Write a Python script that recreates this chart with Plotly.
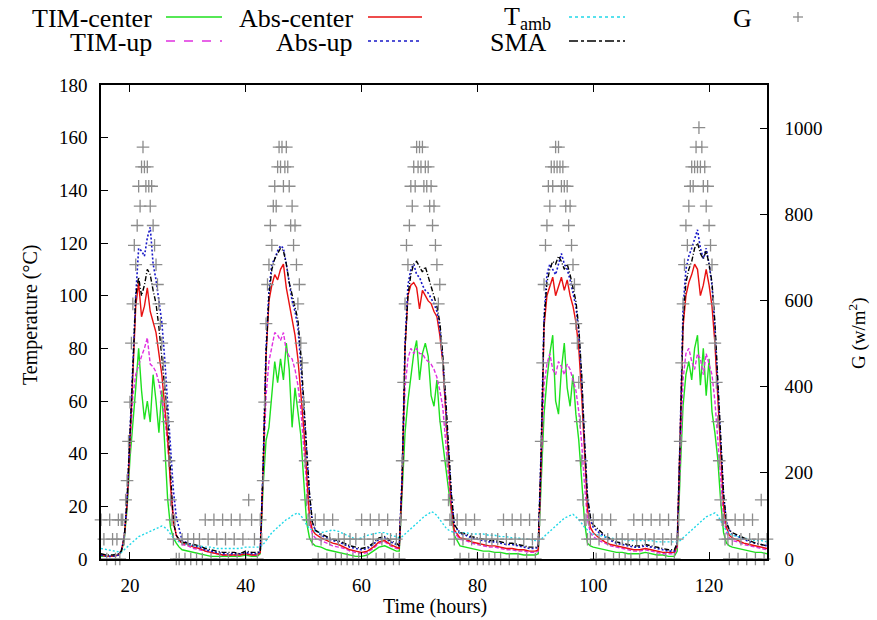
import numpy as np
import plotly.graph_objects as go

# ---------------- data ----------------
hours = [15, 16, 17, 18,
         18.5, 19, 19.5, 20, 20.5, 21, 21.5, 22, 22.5, 23, 23.5, 24, 24.5, 25, 25.5, 26, 26.5, 27, 27.5, 28, 28.5, 29,
         30, 31, 32, 33, 34, 35, 36, 37, 38, 39, 40, 41, 42,
         42.5, 43, 43.5, 44, 44.5, 45, 45.5, 46, 46.5, 47, 47.5, 48, 48.5, 49, 49.5, 50, 50.5, 51, 51.5, 52,
         53, 54, 55, 56, 57, 58, 59, 60, 61, 62, 63, 64, 65, 66,
         66.5, 67, 67.5, 68, 68.5, 69, 69.5, 70, 70.5, 71, 71.5, 72, 72.5, 73, 73.5, 74, 74.5, 75, 75.5, 76,
         77, 78, 79, 80, 81, 82, 83, 84, 85, 86, 87, 88, 89, 90,
         90.5, 91, 91.5, 92, 92.5, 93, 93.5, 94, 94.5, 95, 95.5, 96, 96.5, 97, 97.5, 98, 98.5, 99, 99.5, 100,
         101, 102, 103, 104, 105, 106, 107, 108, 109, 110, 111, 112, 113, 114,
         114.5, 115, 115.5, 116, 116.5, 117, 117.5, 118, 118.5, 119, 119.5, 120, 120.5, 121, 121.5, 122, 122.5, 123, 123.5, 124,
         125, 126, 127, 128, 129, 130]

tim_center = [1, 1, 1, 1.5,
              2.5, 7, 19, 38, 50, 65, 80, 64, 53, 60, 52, 70, 60, 48, 64, 41, 23, 12, 8, 6, 4.5, 3.5,
              3, 2.5, 2, 1.5, 1, 1, 1, 1, 1, 1, 1.5, 1, 1,
              2, 28, 45, 50, 63, 75, 67, 76, 68, 82, 72, 50, 65, 56, 47, 30, 14, 8, 6, 5,
              4.5, 3.5, 3, 2.5, 2, 1.5, 1, 1, 1.5, 3, 4.5, 5, 4, 3,
              3, 25, 48, 60, 70, 78, 83, 68, 78, 82, 77, 62, 58, 68, 53, 44, 37, 28, 17, 9,
              5, 4.5, 4, 3.5, 3, 3, 2.5, 2.5, 2, 2, 2, 1.5, 1.5, 1.5,
              2, 28, 55, 68, 78, 85, 60, 55, 72, 82, 65, 58, 70, 55, 45, 30, 14, 6, 5, 4.5,
              4, 3.5, 3, 2.5, 2.5, 2, 2, 2, 2.5, 2, 1.5, 1.5, 1, 1,
              3, 32, 58, 70, 75, 68, 80, 85, 66, 80, 62, 76, 56, 48, 38, 22, 10, 6, 5, 4.5,
              4, 3.5, 3, 2.5, 2.5, 2]

tim_up = [1.5, 1, 1, 1.5,
          3, 8, 21, 43, 62, 70, 74, 77, 80, 84, 74, 73, 71, 67, 61, 54, 44, 30, 16, 9, 7, 5.5,
          5, 4, 3.5, 3, 2.5, 2, 1.5, 1.5, 1.5, 1.5, 2, 1.5, 1.5,
          2.5, 32, 62, 75, 80, 86, 85, 83, 86, 79, 77, 76, 72, 66, 57, 42, 27, 14, 9.5, 8,
          7, 6, 5, 4.5, 4, 3, 2.5, 2, 2.5, 4, 6, 6.5, 5, 4,
          4, 28, 65, 76, 80, 78, 80, 78, 78, 76, 75, 74, 72, 69, 64, 58, 45, 32, 18, 10,
          7.5, 7, 6, 5.5, 5, 4.5, 4.5, 4, 3.5, 3.5, 3, 3, 2.5, 2.5,
          3, 33, 66, 74, 78, 72, 70, 75, 73, 70, 74, 72, 68, 64, 56, 44, 28, 15, 10, 8.5,
          7, 6, 5, 4.5, 4, 3.5, 3, 3, 3.5, 3, 2.5, 2, 2, 2,
          4, 36, 68, 78, 80, 75, 72, 78, 76, 70, 78, 74, 70, 60, 45, 30, 16, 10, 8, 7,
          6.5, 5.5, 5, 4.5, 4, 3.5]

abs_center = [1.5, 1, 1, 1.5,
              3, 8, 21, 44, 70, 96, 105, 92, 96, 103, 94, 90, 86, 78, 70, 58, 46, 28, 14, 9, 7, 6,
              5.5, 4.5, 4, 3, 2.5, 2, 1.5, 1.5, 1.5, 1.5, 2, 1.5, 1.5,
              2.5, 34, 77, 98, 104, 108, 106, 110, 112, 103, 97, 90, 85, 76, 64, 50, 33, 16, 11, 9.5,
              8, 7, 6, 5.5, 4.5, 3.5, 3, 2.5, 3, 4.5, 6.5, 7, 5.5, 4.5,
              4, 30, 80, 100, 104, 105, 103, 95, 102, 100, 98, 97, 94, 92, 85, 75, 58, 40, 20, 11,
              8, 7.5, 6.5, 6, 5.5, 5, 5, 4.5, 4, 4, 3.5, 3.5, 3, 3,
              3.5, 38, 88, 100, 104, 107, 100, 104, 107, 102, 106, 100, 96, 90, 80, 62, 38, 19, 12, 10,
              8, 6.5, 5.5, 5, 4.5, 4, 3.5, 3.5, 4, 3.5, 3, 2.5, 2.5, 2.5,
              5, 43, 88, 100, 105, 108, 112, 110, 100, 104, 110, 104, 96, 82, 60, 40, 20, 12, 9, 8,
              7, 6, 5.5, 5, 4.5, 4]

abs_up = [1.5, 1, 1, 1.5,
          3, 8, 22, 47, 78, 100, 118, 117, 115, 122, 126, 112, 106, 98, 90, 76, 60, 40, 26, 16, 11, 7,
          6, 5, 4.5, 3.5, 3, 2.5, 2, 2, 2, 2, 2.5, 2, 2,
          3, 36, 80, 102, 112, 114, 117, 119, 118, 112, 104, 98, 94, 88, 74, 57, 40, 24, 14, 11,
          9, 8, 7, 6.5, 5.5, 4.5, 4, 3.5, 4, 5.5, 7.5, 8, 6.5, 5.5,
          5, 32, 82, 104, 110, 112, 108, 107, 104, 102, 101, 99, 97, 94, 88, 76, 60, 42, 24, 13,
          9.5, 9, 8, 7.5, 7, 6.5, 6.5, 6, 5.5, 5.5, 5, 4.5, 4, 4,
          4.5, 42, 92, 108, 112, 110, 108, 112, 116, 112, 110, 106, 101, 96, 86, 68, 44, 23, 15, 12,
          10, 8.5, 7, 6, 5.5, 5, 4.5, 4.5, 5, 4.5, 4, 3.5, 3, 3,
          6, 47, 95, 110, 115, 118, 122, 125, 118, 114, 118, 112, 104, 88, 66, 44, 24, 14, 11, 9.5,
          8.5, 7.5, 6.5, 6, 5.5, 5]

t_amb = [4, 3.5, 3, 2.5,
         2.5, 3.5, 4.5, 5.5, 6.5, 7.5, 8.5, 9, 9.5, 10, 10.5, 11, 11.5, 12, 12.5, 12, 11, 9.5, 8, 7, 6.5, 6,
         5.5, 5, 5, 4.5, 4.5, 4, 4, 4, 4, 4, 4.5, 4.5, 4.5,
         4.5, 5.5, 7, 8.5, 10, 11, 12, 13, 14, 15, 15.5, 16.5, 17, 17.5, 16.5, 15, 13, 11.5, 11, 10.5,
         10, 10.5, 11, 10.5, 9.5, 8.5, 7.5, 8, 9, 9.5, 10, 10, 9, 8.5,
         8, 8.5, 9.5, 10.5, 11.5, 12.5, 13.5, 14.5, 15.5, 16.5, 17, 18, 17.5, 16.5, 15, 13.5, 12, 11, 10.5, 10,
         10, 10, 9.5, 9.5, 9.5, 9, 9, 8.5, 8.5, 8, 8, 7.5, 7.5, 7,
         7, 7.5, 8.5, 9.5, 10.5, 11.5, 12.5, 13.5, 14.5, 15.5, 16, 16.5, 17, 16, 15, 13.5, 12, 11, 10, 9.5,
         9, 8.5, 8, 7.5, 7.5, 7, 7, 7, 7, 7, 6.5, 6.5, 6.5, 6.5,
         6.5, 7, 8, 9, 10, 11, 12, 13, 14, 15, 16, 16.5, 17, 17.5, 16.5, 14.5, 12, 10.5, 9.5, 9,
         8.5, 8, 7.5, 7, 7, 6.5]

sma = [2.0, 1.5, 1.5, 2.0,
       3, 8, 22, 45, 72, 100, 107, 100, 104, 110, 108, 102, 97, 88, 77, 64, 54, 33, 14, 9, 7.5, 6.5,
       6, 5.5, 5, 4, 3.5, 3, 2.5, 2.5, 2.5, 2, 3, 2.5, 2.5,
       3, 35, 78, 100, 110, 114, 116, 118, 117, 112, 105, 100, 96, 91, 78, 60, 42, 25, 14, 11,
       9.5, 8.5, 7.5, 7, 6, 5, 4.5, 4, 4.5, 6, 8, 8.5, 7, 6,
       5, 30, 80, 100, 108, 112, 113, 111, 109, 111, 107, 104, 99, 96, 90, 78, 62, 44, 25, 13,
       10, 9.5, 8.5, 8, 7.5, 7, 7, 6.5, 6, 6, 5.5, 5, 4.5, 4.5,
       4.5, 40, 90, 105, 110, 113, 112, 115, 113, 110, 112, 108, 103, 98, 88, 70, 45, 24, 16, 13,
       11, 9, 7.5, 6.5, 6, 5.5, 5, 5, 5.5, 5, 4.5, 4, 3.5, 3.5,
       6, 45, 90, 105, 110, 113, 118, 120, 116, 114, 117, 112, 105, 90, 68, 45, 25, 14, 11, 10,
       9, 8, 7, 6, 5.5, 5]

# Irradiance G (W/m2): segments of (start hour, step in hours, readings)
g_segments = [
    (15.0, 0.5, [91, 46, 0, 91, 46, 0]),
    (17.75, 0.25, [46, 91, 0, 91, 91, 46, 137, 182, 273, 364, 501, 592, 728, 683, 774, 865, 819, 910, 956, 910,
                   865, 910, 865, 819, 865, 774, 728, 683, 637, 592, 546, 501, 455, 410, 364, 319, 228, 137, 91, 46,
                   91, 0]),
    (28.5, 0.5, [0, 46, 0, 46, 0, 46, 0, 46, 0, 91, 46, 0, 91, 46, 0, 91, 46, 0, 91, 46, 0, 91, 46, 0, 137, 91,
                 46, 0, 91]),
    (42.75, 0.25, [46, 182, 364, 546, 637, 683, 774, 728, 819, 865, 819, 910, 956, 910, 956, 865, 910, 956, 910,
                   865, 774, 819, 728, 774, 683, 592, 637, 501, 455, 364, 228, 137, 91, 91]),
    (51.5, 0.5, [46, 91, 0, 46, 91, 0, 46, 91, 0, 46, 0, 46, 0, 46, 0, 46, 0, 91, 46, 0, 91, 46, 0, 91, 46, 0, 91,
                 46, 0, 46, 0]),
    (66.75, 0.25, [91, 228, 410, 592, 728, 683, 774, 865, 819, 910, 865, 956, 910, 956, 910, 956, 865, 910, 865,
                   910, 819, 865, 774, 819, 728, 683, 592, 637, 501, 455, 410, 319, 228, 137, 91, 91]),
    (76.0, 0.5, [46, 91, 0, 46, 91, 0, 46, 91, 0, 46, 0, 46, 0, 46, 0, 46, 0, 91, 46, 0, 91, 46, 0, 91, 46, 0, 91,
                 46, 0, 46]),
    (90.75, 0.25, [91, 273, 455, 637, 728, 774, 865, 819, 910, 865, 910, 956, 910, 956, 910, 865, 910, 865, 819,
                   865, 774, 819, 728, 683, 637, 546, 501, 410, 319, 228, 137, 91, 91, 46, 91, 46]),
    (100.0, 0.5, [91, 0, 46, 91, 0, 46, 91, 0, 46, 0, 46, 0, 46, 0, 91, 46, 0, 91, 46, 0, 91, 46, 0, 91, 46, 0,
                  91, 46, 0, 46]),
    (114.75, 0.25, [91, 273, 455, 592, 683, 774, 728, 819, 865, 910, 865, 910, 956, 910, 1001, 910, 956, 865, 910,
                    819, 865, 774, 728, 683, 592, 501, 410, 319, 228, 137, 91, 91, 46, 91, 46, 0]),
    (124.0, 0.5, [46, 91, 0, 46, 91, 0, 46, 91, 0, 46, 137, 0, 46]),
]

x_ticks = [20, 40, 60, 80, 100, 120]
y_ticks = [0, 20, 40, 60, 80, 100, 120, 140, 160, 180]
y2_ticks = [0, 200, 400, 600, 800, 1000]

g_hours, g_vals = [], []
for start, step, vals in g_segments:
    g_hours.extend(start + step * np.arange(len(vals)))
    g_vals.extend(vals)

# ---------------- styling ----------------
FONT = "Liberation Serif"
C_GREEN = "#1ee01e"
C_MAG = "#e030e0"
C_RED = "#e81010"
C_BLUE = "#1818c8"
C_CYAN = "#20d8e8"
C_BLACK = "#000000"
C_GRAY = "#8c8c8c"

series = [
    ("TIM-center", tim_center, C_GREEN, "solid", 1.4),
    ("TIM-up", tim_up, C_MAG, "4px,2px", 1.4),
    ("Abs-center", abs_center, C_RED, "solid", 1.4),
    ("Abs-up", abs_up, C_BLUE, "2px,2px", 1.6),
    ("T<sub>amb</sub>", t_amb, C_CYAN, "2px,2px", 1.4),
    ("SMA", sma, C_BLACK, "5px,2px,1px,2px", 1.4),
]

fig = go.Figure()
for name, vals, col, dash, w in series:
    fig.add_trace(go.Scatter(x=hours, y=vals, mode="lines", name=name,
                             line=dict(color=col, dash=dash, width=w), showlegend=False))

fig.add_trace(go.Scatter(x=g_hours, y=g_vals, mode="markers", name="G", yaxis="y2",
                         marker=dict(symbol="cross-thin", size=9, color=C_GRAY,
                                     line=dict(color=C_GRAY, width=1.3)),
                         cliponaxis=False, showlegend=False))

L, R, T, B = 101, 767, 85, 559


def px(xp):
    return (xp - L) / (R - L)


def py(yp):
    return (B - yp) / (B - T)


annotations = []
shapes = []
legend_items = [
    # (text, right edge px, y px, color, dash, sample x0, x1)
    ("TIM-center", 154, 18, C_GREEN, "solid", 166, 222),
    ("TIM-up", 154, 42, C_MAG, "dash", 166, 222),
    ("Abs-center", 355, 18, C_RED, "solid", 368, 422),
    ("Abs-up", 355, 42, C_BLUE, "dot", 368, 422),
    ("T<sub>amb</sub>", 553, 18, C_CYAN, "dot", 569, 625),
    ("SMA", 549, 42, C_BLACK, "dashdot", 569, 625),
]
for text, xr, yc, col, dash, x0, x1 in legend_items:
    annotations.append(dict(text=text, x=px(xr), y=py(yc), xref="paper", yref="paper",
                            xanchor="right", yanchor="middle", showarrow=False,
                            font=dict(family=FONT, size=26, color="black")))
    shapes.append(dict(type="line", xref="paper", yref="paper", x0=px(x0), x1=px(x1),
                       y0=py(yc - 1), y1=py(yc - 1), line=dict(color=col, dash=dash, width=1.5)))

annotations.append(dict(text="G", x=px(754), y=py(18), xref="paper", yref="paper",
                        xanchor="right", yanchor="middle", showarrow=False,
                        font=dict(family=FONT, size=26, color="black")))
# legend plus sign
shapes.append(dict(type="line", xref="paper", yref="paper", x0=px(793), x1=px(803),
                   y0=py(17), y1=py(17), line=dict(color=C_GRAY, width=1.3)))
shapes.append(dict(type="line", xref="paper", yref="paper", x0=px(798), x1=px(798),
                   y0=py(12), y1=py(22), line=dict(color=C_GRAY, width=1.3)))

annotations.append(dict(text="Temperature (°C)", x=px(30), y=py(315), xref="paper", yref="paper",
                        textangle=-90, showarrow=False, xanchor="center", yanchor="middle",
                        font=dict(family=FONT, size=20, color="black")))
annotations.append(dict(text="G (w/m<sup>2</sup>)", x=px(857), y=py(333), xref="paper", yref="paper",
                        textangle=-90, showarrow=False, xanchor="center", yanchor="middle",
                        font=dict(family=FONT, size=19, color="black")))
annotations.append(dict(text="Time (hours)", x=px(435), y=py(606), xref="paper", yref="paper",
                        showarrow=False, xanchor="center", yanchor="middle",
                        font=dict(family=FONT, size=20, color="black")))

axis_common = dict(showgrid=False, zeroline=False, showline=True, linecolor="black", linewidth=1.5,
                   ticks="inside", ticklen=7, tickwidth=1.3, tickcolor="black",
                   tickfont=dict(family=FONT, size=19, color="black"))

fig.update_layout(
    width=877, height=620,
    margin=dict(l=L, r=877 - R, t=T, b=620 - B, pad=0),
    paper_bgcolor="white", plot_bgcolor="white",
    showlegend=False,
    xaxis=dict(range=[15, 130], tickvals=x_ticks, mirror="ticks", ticklabelstandoff=8, **axis_common),
    yaxis=dict(range=[0, 180], tickvals=y_ticks, mirror=False, ticklabelstandoff=8, **axis_common),
    yaxis2=dict(range=[0, 1100], tickvals=y2_ticks, overlaying="y", side="right", anchor="x",
                ticklabelstandoff=12, **axis_common),
    annotations=annotations,
    shapes=shapes,
)

fig.write_html(
    "out.html",
    config={"displayModeBar": False},
    post_script="document.body.style.margin='0';document.body.style.padding='0';"
                "document.body.style.overflow='hidden';",
)
